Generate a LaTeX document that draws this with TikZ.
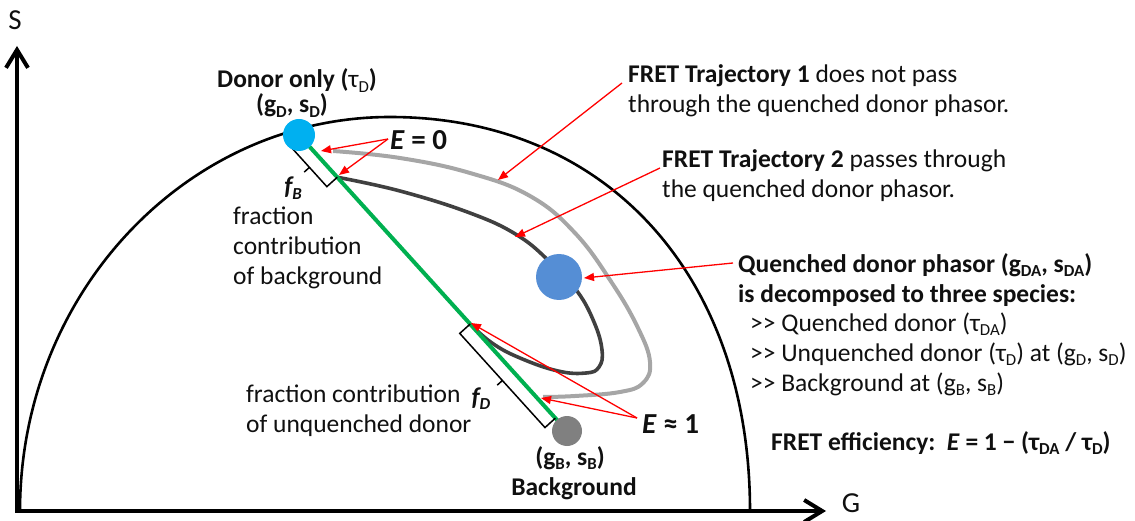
\documentclass[tikz,border=0pt]{standalone}
\usepackage{fontspec}
\setmainfont{Carlito}
\usepackage{graphicx}
\usetikzlibrary{arrows.meta,calc,backgrounds}
\definecolor{donorblue}{HTML}{00B0F0}
\definecolor{qblue}{HTML}{558ED5}
\definecolor{bggray}{HTML}{808080}
\definecolor{trajonecol}{HTML}{A6A6A6}
\definecolor{trajtwocol}{HTML}{404040}
\definecolor{fretgreen}{HTML}{00B050}
\definecolor{txt}{HTML}{101010}
\newcommand\sbs[1]{\raisebox{-0.18em}{\scalebox{0.66}{#1}}}
\newcommand\gtgt{>{}>}
\begin{document}
\begin{tikzpicture}[x=1pt,y=-1pt,
  txtstyle/.style={inner sep=0pt, text=txt, font=\fontsize{25.5}{30}\selectfont},
  boldtxt/.style={inner sep=0pt, text=txt, font=\fontsize{25.5}{30}\selectfont\bfseries},
  bigtxt/.style={inner sep=0pt, text=txt, font=\fontsize{29}{30}\selectfont\bfseries},
  axislabel/.style={inner sep=0pt, text=txt, font=\fontsize{29}{29}\selectfont},
  phasor/.style={circle, inner sep=0pt, draw=none},
  redarrow/.style={draw=red, line width=1.3pt, -{Triangle[length=10pt,width=8pt]}},
  axisline/.style={line width=4pt, {Straight Barb[length=18pt,width=22pt]}-{Straight Barb[length=18pt,width=22pt]}},
  bracketline/.style={line width=1.5pt, line join=miter},
  trajone/.style={line width=4pt, trajonecol},
  trajtwo/.style={line width=3.6pt, trajtwocol},
]
\useasboundingbox (0,0) rectangle (1135,521);

% phasor points
\node[phasor, fill=donorblue, minimum size=32pt] (donor) at (299,135) {};
\node[phasor, fill=qblue, minimum size=46pt] (quench) at (559,277) {};
\node[phasor, fill=bggray, minimum size=30pt] (bkg) at (567,431) {};

% axes
\coordinate (origin) at (17,511);
\coordinate (ytip) at (17,46);
\coordinate (xtip) at (826,511);
\draw[axisline] (ytip) -- (origin) -- (xtip);
\node[axislabel, anchor=base] (slabel) at (15,30) {S};
\node[axislabel] (glabel) at (851,503) {G};

% points along the green line
\coordinate (fb1) at ($(donor.center)!5pt!(bkg.center)$);
\coordinate (fb2) at ($(donor.center)!57pt!(bkg.center)$);
\coordinate (fb1o) at ($(fb1)!14pt!-90:(bkg.center)$);
\coordinate (fb2o) at ($(fb2)!14pt!-90:(bkg.center)$);
\coordinate (fbm) at ($(fb1o)!0.5!(fb2o)$);
\coordinate (fbt) at ($(fbm)!7pt!-90:(fb2o)$);
\coordinate (fd1) at ($(donor.center)!255pt!(bkg.center)$);
\coordinate (fd2) at ($(donor.center)!382pt!(bkg.center)$);
\coordinate (fd1o) at ($(fd1)!14pt!-90:(bkg.center)$);
\coordinate (fd2o) at ($(fd2)!14pt!-90:(bkg.center)$);
\coordinate (fdm) at ($(fd1o)!0.5!(fd2o)$);
\coordinate (fdt) at ($(fdm)!7pt!-90:(fd2o)$);

\begin{scope}[on background layer]
  % universal semicircle
  \draw[line width=2.6pt] (20,511) .. controls (20,294) and (186,117) .. (390,117)
        .. controls (606,117) and (750,275) .. (750,511);
  % FRET trajectory 1
  \draw[trajone] plot[smooth, tension=0.7] coordinates {(333,151) (400,158) (470,173) (530,196) (575,233) (612,283) (638,328) (650,362) (643,383) (620,392) (575,396) (543,397)};
  % FRET trajectory 2
  \draw[trajtwo] plot[smooth, tension=0.7] coordinates {(fb2) (400,191) (470,213) (517,235) (550,262) (577,291) (594,322) (602,350) (599,367) (586,373) (558,371) (520,358) (492,343) (fd1)};
  % green line
  \draw[line width=4pt, fretgreen] (donor.center) -- (bkg.center);
  % brackets
  \draw[bracketline] (fb1) -- (fb1o) -- (fb2o) -- (fb2) (fbm) -- (fbt);
  \draw[bracketline] (fd1) -- (fd1o) -- (fd2o) -- (fd2) (fdm) -- (fdt);
\end{scope}

% texts (multi-line nodes are anchored at the baseline of their last line)
\node[boldtxt, anchor=base] (donorlbl) at (297,88) {Donor only ({\mdseries τ\sbs{D}})};
\node[boldtxt, anchor=base] (gdsd) at (292,113) {(g\sbs{D}, s\sbs{D})};
\node[bigtxt, anchor=base west] (ezero) at (390,150) {\textit{E} = 0};
\node[boldtxt, anchor=base] (fblbl) at (293,195) {\textit{f\sbs{B}}};
\node[txtstyle, anchor=base west, align=left] (fbtxt) at (233,285) {fraction\\contribution\\of background};
\node[txtstyle, anchor=base west, align=left] (fdtxt) at (246,432) {fraction contribution\\of unquenched donor};
\node[boldtxt, anchor=base] (fdlbl) at (481,405) {\textit{f\sbs{D}}};
\node[boldtxt, anchor=base] (gbsb) at (570,465) {(g\sbs{B}, s\sbs{B})};
\node[boldtxt, anchor=base] (bkglbl) at (574,495) {Background};
\node[bigtxt, anchor=base west] (eone) at (642,433) {\textit{E} ≈ 1};
\node[txtstyle, anchor=base west, align=left] (tonelbl) at (628,113) {\textbf{FRET Trajectory 1} does not pass\\through the quenched donor phasor.};
\node[txtstyle, anchor=base west, align=left] (ttwolbl) at (662,198) {\textbf{FRET Trajectory 2} passes through\\the quenched donor phasor.};
\node[boldtxt, anchor=base west, align=left] (qlbl) at (738,302) {Quenched donor phasor (g\sbs{DA}, s\sbs{DA})\\is decomposed to three species:};
\node[txtstyle, anchor=base west, align=left] (species) at (750,391) {\gtgt{} Quenched donor (τ\sbs{DA})\\\gtgt{} Unquenched donor (τ\sbs{D}) at (g\sbs{D}, s\sbs{D})\\\gtgt{} Background at (g\sbs{B}, s\sbs{B})};
\node[boldtxt, anchor=base west] (eff) at (771,450) {FRET efficiency:\ \ \textit{E} = 1 − (τ\sbs{DA} / τ\sbs{D})};

% red pointers
\coordinate (ezfrom) at (388,139);
\coordinate (ezta) at (321,151);
\coordinate (eztb) at (339,175);
\draw[redarrow] (ezfrom) -- (ezta);
\draw[redarrow] (ezfrom) -- (eztb);
\coordinate (t1from) at (622,83);
\coordinate (t1tip) at (498,180);
\draw[redarrow] (t1from) -- (t1tip);
\coordinate (t2from) at (660,168);
\coordinate (t2tip) at (515,237);
\draw[redarrow] (t2from) -- (t2tip);
\coordinate (qfrom) at (733,263);
\coordinate (qtip) at (584,278);
\draw[redarrow] (qfrom) -- (qtip);
\coordinate (e1from) at (637,418);
\coordinate (e1ta) at (471,323);
\coordinate (e1tb) at (541,398);
\draw[redarrow] (e1from) -- (e1ta);
\draw[redarrow] (e1from) -- (e1tb);
\end{tikzpicture}
\end{document}
